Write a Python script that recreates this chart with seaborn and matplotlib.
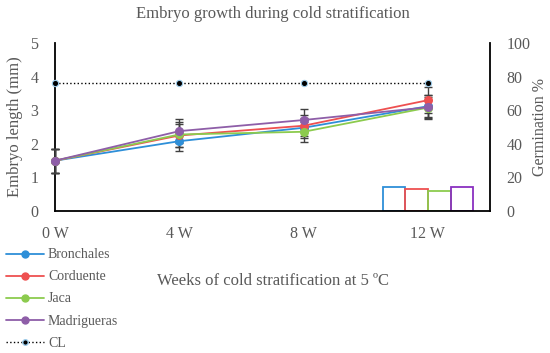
import numpy as np
import pandas as pd
import seaborn as sns
import matplotlib.pyplot as plt
from matplotlib.lines import Line2D

sns.set_theme(style="white")
plt.rcParams['font.family'] = ['Liberation Serif', 'DejaVu Serif']

weeks = ["0 W", "4 W", "8 W", "12 W"]
populations = ["Bronchales", "Corduente", "Jaca", "Madrigueras"]
colors = ["#2E8FD8", "#EE5050", "#8CCB4E", "#8E5EA8"]
bar_colors = ["#2E8FD8", "#EE5050", "#8CCB4E", "#8A30C0"]

# embryo length (mm)
length_bronchales = [1.5, 2.08, 2.48, 3.12]
length_corduente = [1.5, 2.25, 2.54, 3.30]
length_jaca = [1.5, 2.28, 2.36, 3.08]
length_madrigueras = [1.5, 2.38, 2.71, 3.09]

err_bronchales = [0.36, 0.30, 0.30, 0.33]
err_corduente = [0.36, 0.35, 0.32, 0.38]
err_jaca = [0.36, 0.36, 0.30, 0.32]
err_madrigueras = [0.36, 0.35, 0.32, 0.35]

# critical length
cl_values = [3.8, 3.8, 3.8, 3.8]

# germination % at 12 W
germ_12w = [14.5, 12.9, 11.9, 14.3]

lengths = [length_bronchales, length_corduente, length_jaca, length_madrigueras]
errs = [err_bronchales, err_corduente, err_jaca, err_madrigueras]

df = pd.DataFrame({
    "wk": np.tile(np.arange(len(weeks)), len(populations)),
    "pop": np.repeat(populations, len(weeks)),
    "length": np.concatenate(lengths),
    "err": np.concatenate(errs),
})
germ = pd.DataFrame({"week": ["12 W"] * 4, "pop": populations, "germ": germ_12w})

grey = "#595959"
fig = plt.figure(figsize=(5.5, 3.53), dpi=100)
ax = fig.add_axes([0.1, 0.402, 0.791, 0.476])
ax2 = ax.twinx()

# germination bars on secondary axis
sns.barplot(data=germ, x="week", y="germ", hue="pop", order=weeks, hue_order=populations,
            palette=bar_colors, fill=False, width=0.73, linewidth=1.3, legend=False, ax=ax2)
ax2.set_xlim(0, 3.5)
ax2.set_ylim(0, 100)
ax2.set_yticks([0, 20, 40, 60, 80, 100])
ax2.set_ylabel("Germination %", color=grey, fontsize=11.5, labelpad=1)
ax2.tick_params(axis="y", colors=grey, labelsize=11.5, length=0, pad=12)

# error bars
for i, p in enumerate(populations):
    sub = df[df["pop"] == p]
    ax.errorbar(sub["wk"], sub["length"], yerr=sub["err"], fmt="none", ecolor="#404040",
                elinewidth=1.0, capsize=3, capthick=1.0, zorder=3, clip_on=False)

sns.lineplot(data=df, x="wk", y="length", hue="pop", palette=colors, marker="o",
             markersize=6.5, markeredgewidth=0, linewidth=1.3, ax=ax, legend=False,
             zorder=4, clip_on=False)
ax.plot(range(len(weeks)), cl_values, linestyle=":", color="black", linewidth=1.0,
        marker="o", markersize=4.5, markerfacecolor="black", markeredgecolor="#9CCBEA",
        markeredgewidth=0.8, zorder=5, clip_on=False)

ax.set_zorder(ax2.get_zorder() + 1)
ax.patch.set_visible(False)
ax.set_xlim(0, 3.5)
ax.set_ylim(0, 5)
ax.set_xticks(range(len(weeks)))
ax.set_xticklabels(weeks)
ax.set_yticks(range(6))
ax.tick_params(axis="both", colors=grey, labelsize=11.5, length=0)
ax.tick_params(axis="x", pad=11)
ax.tick_params(axis="y", pad=12)
ax.set_xlabel("Weeks of cold stratification at 5 ºC", color=grey, fontsize=12, labelpad=22)
ax.set_ylabel("Embryo length (mm)", color=grey, fontsize=12, labelpad=5)
ax.set_title("Embryo growth during cold stratification", color=grey, fontsize=12, pad=18)

for a in (ax, ax2):
    for s in a.spines.values():
        s.set_visible(False)
ax.spines["left"].set_visible(True)
ax.spines["bottom"].set_visible(True)
ax2.spines["right"].set_visible(True)
for s in (ax.spines["left"], ax.spines["bottom"], ax2.spines["right"]):
    s.set_color("black")
    s.set_linewidth(1.3)

handles = [Line2D([], [], color=c, marker="o", markersize=5, linewidth=1.3) for c in colors]
handles.append(Line2D([], [], color="black", linestyle=":", marker="o", markersize=4,
                      markeredgecolor="#9CCBEA", linewidth=1.0))
fig.legend(handles, populations + ["CL"], loc="upper left", bbox_to_anchor=(0.0, 0.312),
           frameon=False, fontsize=10, labelcolor=grey, handlelength=2.8,
           handletextpad=0.25, labelspacing=0.65, borderaxespad=0)

fig.savefig("out.png", dpi=100)
